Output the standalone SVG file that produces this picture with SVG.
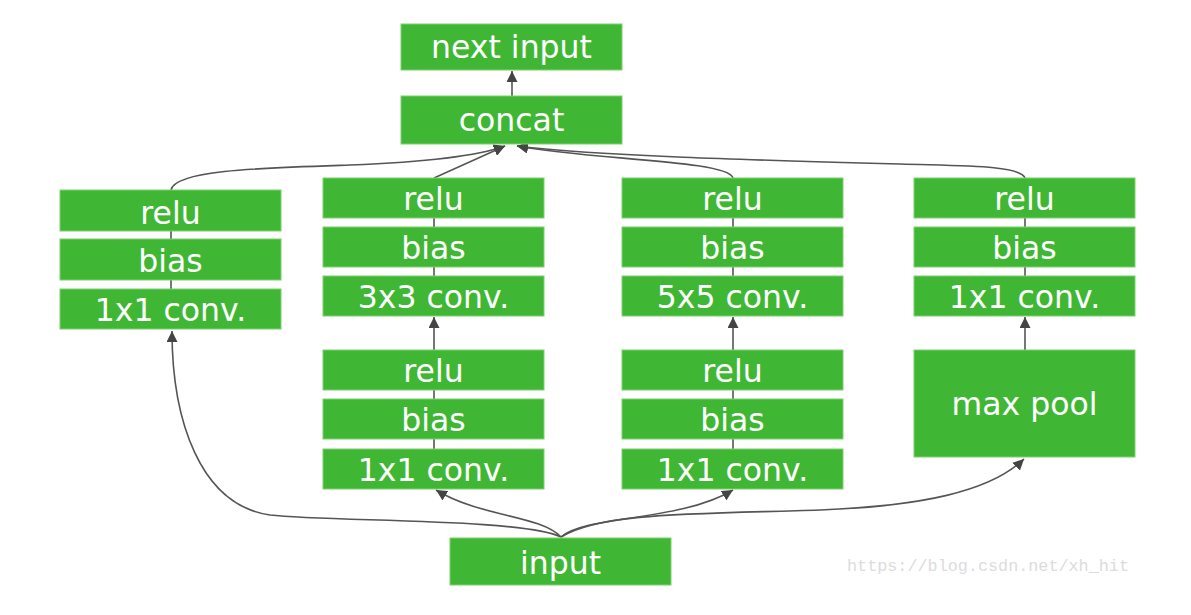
<svg xmlns="http://www.w3.org/2000/svg" width="1191" height="615" viewBox="0 0 1191 615">
<style>
.box{fill:#3fb734;stroke:#7fd06f;stroke-width:1}
.lbl{font-family:"DejaVu Sans",Verdana,sans-serif;font-size:31.5px;fill:#ffffff;text-anchor:middle}
.c{fill:none;stroke:#555;stroke-width:1.6}
.wm{font-family:"Liberation Mono",monospace;font-size:16.8px;fill:#dcdcdc}
</style>
<defs>
<marker id="ah2" viewBox="0 0 10 10" refX="10" refY="5" markerWidth="11" markerHeight="11" markerUnits="userSpaceOnUse" orient="auto">
<path d="M0,0 L10,5 L0,10 z" fill="#444"/>
</marker>
</defs>
<rect width="1191" height="615" fill="#ffffff"/>
<g id="connectors">
<path class="c" d="M512,96 L512,71" marker-end="url(#ah2)"/>
<path class="c" d="M171,190 C175,170 260,168 350,165 C430,162 480,155 505,146" marker-end="url(#ah2)"/>
<path class="c" d="M434,178 L505,146" marker-end="url(#ah2)"/>
<path class="c" d="M733,178 C728,160 590,160 517,146" marker-end="url(#ah2)"/>
<path class="c" d="M1025,178 C1020,165 960,166 900,164 C750,160 600,156 517,146" marker-end="url(#ah2)"/>
<path class="c" d="M171,231 L171,290"/>
<path class="c" d="M434,218 L434,277"/>
<path class="c" d="M733,218 L733,277"/>
<path class="c" d="M1025,218 L1025,277"/>
<path class="c" d="M434,390 L434,450"/>
<path class="c" d="M733,390 L733,450"/>
<path class="c" d="M434,350 L434,317" marker-end="url(#ah2)"/>
<path class="c" d="M733,350 L733,317" marker-end="url(#ah2)"/>
<path class="c" d="M1025,350 L1025,317" marker-end="url(#ah2)"/>
<path class="c" d="M561,537 C520,518 330,522 270,515 C200,505 172,420 172,331" marker-end="url(#ah2)"/>
<path class="c" d="M561,537 C540,515 480,517 436,490" marker-end="url(#ah2)"/>
<path class="c" d="M561,537 C585,515 680,522 733,490" marker-end="url(#ah2)"/>
<path class="c" d="M561,537 C600,512 700,514 820,510 C920,506 990,492 1024,459" marker-end="url(#ah2)"/>
</g>
<g id="next_input"><rect class="box" x="401" y="24" width="221" height="46"/><text class="lbl" x="511.5" y="58">next input</text></g>
<g id="concat"><rect class="box" x="401" y="96" width="221" height="48"/><text class="lbl" x="511.5" y="131">concat</text></g>
<g id="b1_relu"><rect class="box" x="60" y="190" width="221" height="41"/><text class="lbl" x="170.5" y="224">relu</text></g>
<g id="b1_bias"><rect class="box" x="60" y="239" width="221" height="41"/><text class="lbl" x="170.5" y="272">bias</text></g>
<g id="b1_conv"><rect class="box" x="60" y="289" width="221" height="40"/><text class="lbl" x="170.5" y="321">1x1 conv.</text></g>
<g id="b2_relu"><rect class="box" x="323" y="178" width="221" height="40"/><text class="lbl" x="433.5" y="210">relu</text></g>
<g id="b2_bias"><rect class="box" x="323" y="227" width="221" height="40"/><text class="lbl" x="433.5" y="259">bias</text></g>
<g id="b2_conv3"><rect class="box" x="323" y="276" width="221" height="40"/><text class="lbl" x="433.5" y="308">3x3 conv.</text></g>
<g id="b2_relu2"><rect class="box" x="323" y="350" width="221" height="40"/><text class="lbl" x="433.5" y="382">relu</text></g>
<g id="b2_bias2"><rect class="box" x="323" y="399" width="221" height="40"/><text class="lbl" x="433.5" y="431">bias</text></g>
<g id="b2_conv1"><rect class="box" x="323" y="449" width="221" height="40"/><text class="lbl" x="433.5" y="481">1x1 conv.</text></g>
<g id="b3_relu"><rect class="box" x="622" y="178" width="221" height="40"/><text class="lbl" x="732.5" y="210">relu</text></g>
<g id="b3_bias"><rect class="box" x="622" y="227" width="221" height="40"/><text class="lbl" x="732.5" y="259">bias</text></g>
<g id="b3_conv5"><rect class="box" x="622" y="276" width="221" height="40"/><text class="lbl" x="732.5" y="308">5x5 conv.</text></g>
<g id="b3_relu2"><rect class="box" x="622" y="350" width="221" height="40"/><text class="lbl" x="732.5" y="382">relu</text></g>
<g id="b3_bias2"><rect class="box" x="622" y="399" width="221" height="40"/><text class="lbl" x="732.5" y="431">bias</text></g>
<g id="b3_conv1"><rect class="box" x="622" y="449" width="221" height="40"/><text class="lbl" x="732.5" y="481">1x1 conv.</text></g>
<g id="b4_relu"><rect class="box" x="914" y="178" width="221" height="40"/><text class="lbl" x="1024.5" y="210">relu</text></g>
<g id="b4_bias"><rect class="box" x="914" y="227" width="221" height="40"/><text class="lbl" x="1024.5" y="259">bias</text></g>
<g id="b4_conv1"><rect class="box" x="914" y="276" width="221" height="40"/><text class="lbl" x="1024.5" y="308">1x1 conv.</text></g>
<g id="b4_pool"><rect class="box" x="914" y="350" width="221" height="107"/><text class="lbl" x="1024.5" y="415">max pool</text></g>
<g id="input"><rect class="box" x="450" y="538" width="221" height="47"/><text class="lbl" x="560.5" y="574">input</text></g>
<text class="wm" x="847" y="571">https://blog.csdn.net/xh_hit</text>
</svg>
